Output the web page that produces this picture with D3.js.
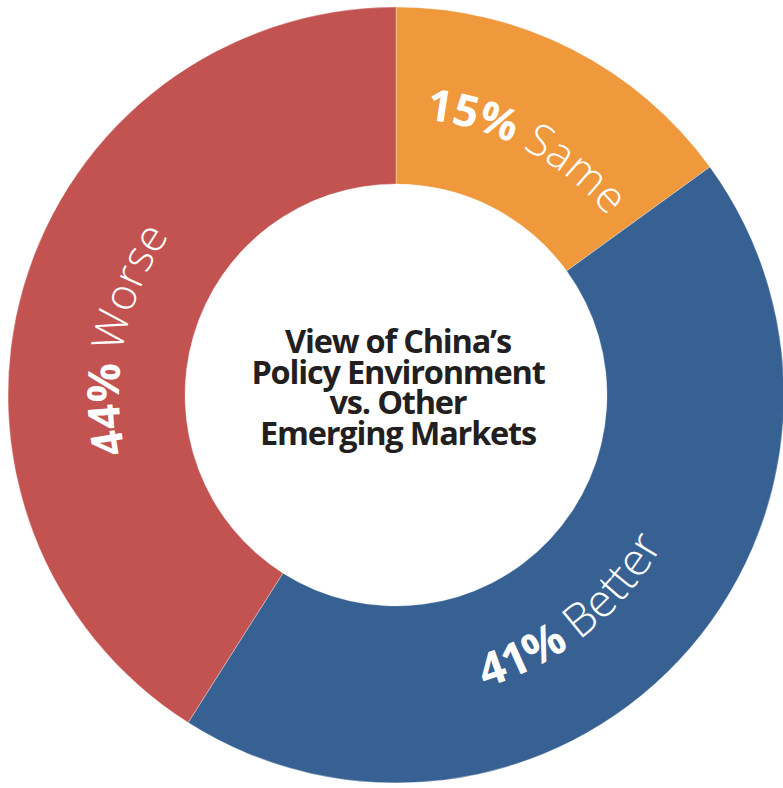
<!DOCTYPE html>
<html>
<head>
<meta charset="utf-8">
<script src="https://cdn.jsdelivr.net/npm/d3@7"></script>
<style>
  html, body { margin: 0; padding: 0; background: #fff; }
  svg { display: block; }
</style>
</head>
<body>
<script>
// ---- data ----
const categories = ["Same", "Better", "Worse"];
const percentLabels = ["15%", "41%", "44%"];
// arc shares as drawn in the reference picture
const arcShares = [15, 44, 41];
const colors = ["#EF983C", "#376192", "#C35350"];
const titleLines = ["View of China\u2019s", "Policy Environment", "vs. Other", "Emerging Markets"];

// ---- layout ----
const W = 783, H = 788;
const cx = 396, cy = 395;
const outerR = 388, innerR = 211;
// label placement tweaks (degrees), size and orientation
const labelShift = [1, 8, -4.7];
const labelSize = [44, 46, 44];
const labelFlip = [false, true, false]; // true: text reads counter-clockwise, tops toward centre
const cwRadius = 277, ccwRadius = 306;

const svg = d3.select("body").append("svg")
  .attr("width", W).attr("height", H);

const g = svg.append("g").attr("transform", `translate(${cx},${cy})`);

const pie = d3.pie().sort(null).value(d => d.share);
const data = categories.map((c, i) => ({
  cat: c, pct: percentLabels[i], share: arcShares[i], color: colors[i], i
}));
const arcs = pie(data);

const arc = d3.arc().innerRadius(innerR).outerRadius(outerR);

g.selectAll("path.slice")
  .data(arcs)
  .join("path")
  .attr("class", "slice")
  .attr("d", arc)
  .attr("fill", d => d.data.color)
  .attr("stroke", "#ffffff")
  .attr("stroke-opacity", 0.45)
  .attr("stroke-width", 0.7);

// label paths
const defs = svg.append("defs");
arcs.forEach((d, i) => {
  const mid = (d.startAngle + d.endAngle) / 2 + labelShift[i] * Math.PI / 180;
  const p = d3.path();
  const half = Math.PI / 2;
  if (!labelFlip[i]) {
    p.arc(0, 0, cwRadius, mid - half - Math.PI / 2, mid + half - Math.PI / 2, false);
  } else {
    p.arc(0, 0, ccwRadius, mid + half - Math.PI / 2, mid - half - Math.PI / 2, true);
  }
  defs.append("path").attr("id", "lp" + i).attr("d", p.toString());
});

const labels = g.selectAll("text.lbl")
  .data(arcs)
  .join("text")
  .attr("class", "lbl")
  .attr("fill", "#ffffff")
  .style("font-family", "'Open Sans', sans-serif")
  .style("font-size", (d, i) => labelSize[i] + "px");

const tp = labels.append("textPath")
  .attr("href", (d, i) => "#lp" + i)
  .attr("startOffset", "50%")
  .attr("text-anchor", "middle");

tp.append("tspan")
  .style("font-weight", 700)
  .text(d => d.data.pct);
tp.append("tspan")
  .style("font-weight", 300)
  .text(d => "\u00a0" + d.data.cat);

// centre title
const lineGap = 30.7;
const title = g.append("text")
  .attr("text-anchor", "middle")
  .attr("fill", "#231f20")
  .style("font-family", "'Open Sans', sans-serif")
  .style("font-weight", 700)
  .style("font-size", "32.5px")
  .style("letter-spacing", "-1.2px");

titleLines.forEach((t, i) => {
  title.append("tspan")
    .attr("x", 2)
    .attr("y", -42 + i * lineGap)
    .text(t);
});
</script>
</body>
</html>
